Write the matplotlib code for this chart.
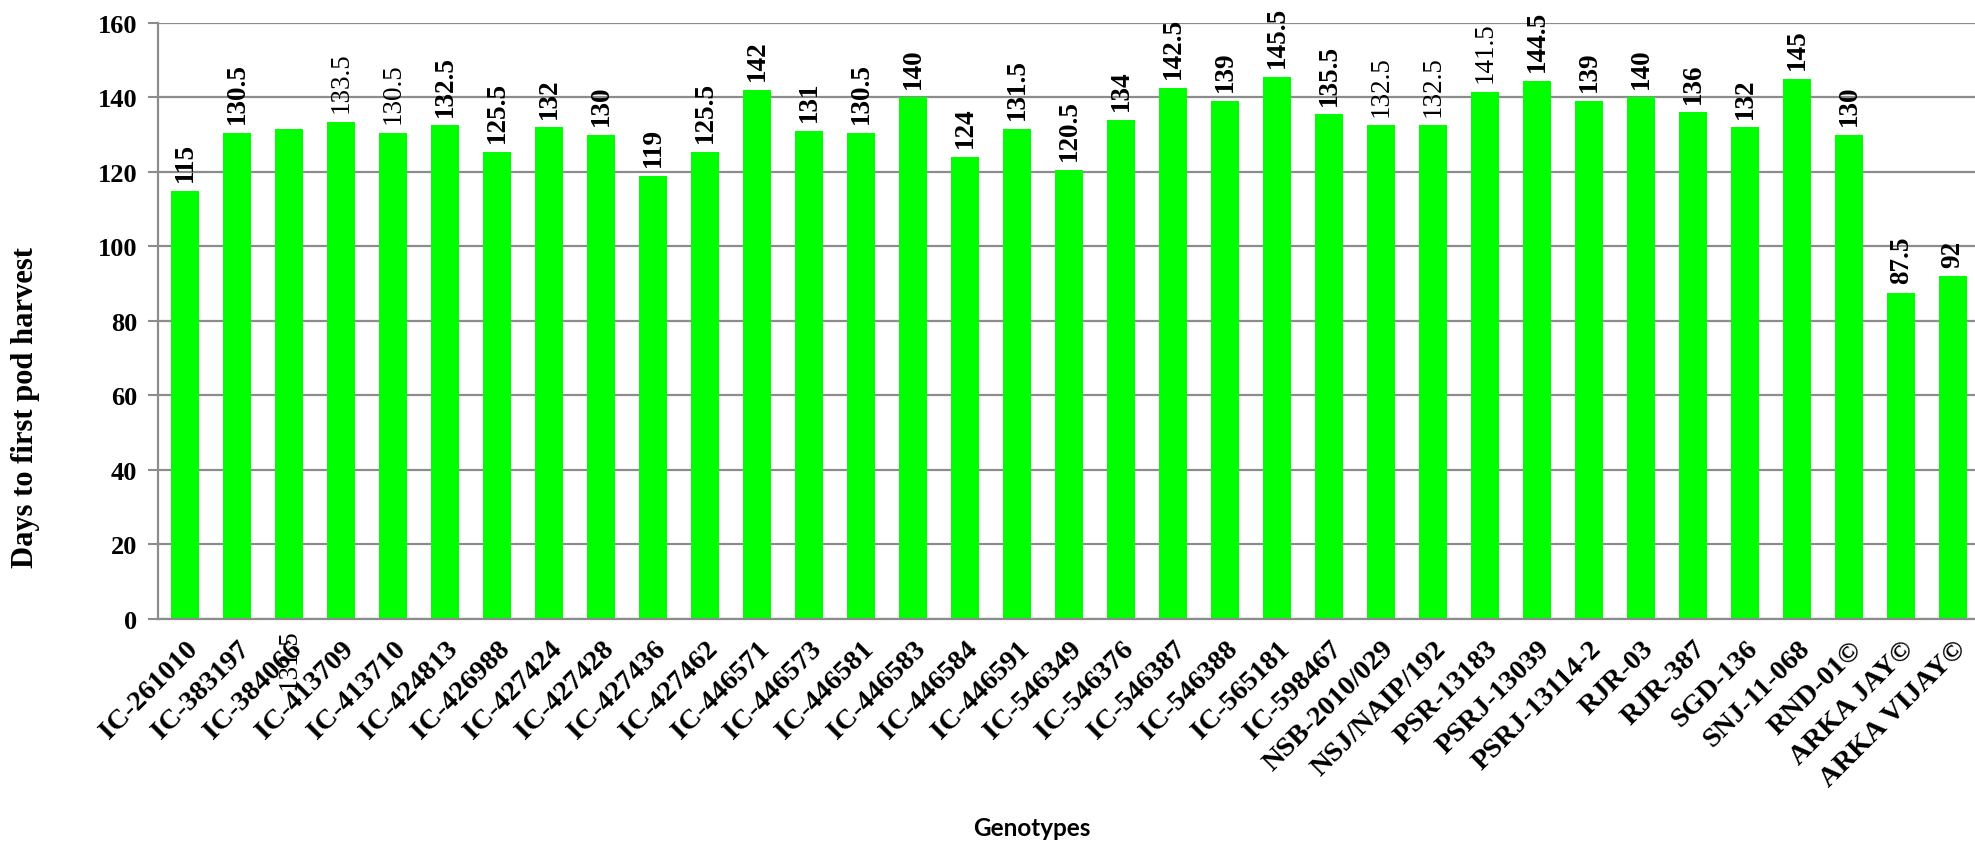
import matplotlib
matplotlib.use("Agg")
import matplotlib.pyplot as plt

# Genotypes and their days to first pod harvest
genotypes = [
    "IC-261010", "IC-383197", "IC-384066", "IC-413709", "IC-413710",
    "IC-424813", "IC-426988", "IC-427424", "IC-427428", "IC-427436",
    "IC-427462", "IC-446571", "IC-446573", "IC-446581", "IC-446583",
    "IC-446584", "IC-446591", "IC-546349", "IC-546376", "IC-546387",
    "IC-546388", "IC-565181", "IC-598467", "NSB-2010/029", "NSJ/NAIP/192",
    "PSR-13183", "PSRJ-13039", "PSRJ-13114-2", "RJR-03", "RJR-387",
    "SGD-136", "SNJ-11-068", "RND-01©", "ARKA JAY©", "ARKA VIJAY©",
]
days = [
    115, 130.5, 131.5, 133.5, 130.5,
    132.5, 125.5, 132, 130, 119,
    125.5, 142, 131, 130.5, 140,
    124, 131.5, 120.5, 134, 142.5,
    139, 145.5, 135.5, 132.5, 132.5,
    141.5, 144.5, 139, 140, 136,
    132, 145, 130, 87.5, 92,
]
# value labels printed in normal weight instead of bold
light_labels = [3, 4, 23, 24, 25]
# value label that ended up below the axis
dropped_label = 2

yticks = [0, 20, 40, 60, 80, 100, 120, 140, 160]

SERIF = "Liberation Serif"
GRID = "#8c8c8c"
BAR_COLOR = "#00ff00"

fig = plt.figure(figsize=(19.75, 8.45), dpi=100)
ax = fig.add_axes([0.080, 0.2663, 0.920, 0.7053])

x = list(range(len(days)))
bars = ax.bar(x, days, width=0.53, color=BAR_COLOR, zorder=2)

ax.set_ylim(0, 160)
ax.set_xlim(-0.52, len(days) - 0.58)
ax.set_yticks(yticks)
ax.set_yticklabels([str(t) for t in yticks], fontfamily=SERIF,
                   fontweight="bold", fontsize=19)
ax.yaxis.grid(True, color=GRID, linewidth=1.6, zorder=0)
ax.set_axisbelow(True)

ax.set_xticks(x)
ax.set_xticklabels(genotypes, rotation=45, ha="right", va="top",
                   rotation_mode="anchor", fontfamily=SERIF,
                   fontweight="bold", fontsize=20.5)
ax.tick_params(axis="x", length=0, pad=12)
ax.tick_params(axis="y", length=7, width=1.5, color=GRID, pad=8)

for side in ["top", "right"]:
    ax.spines[side].set_visible(False)
for side in ["left", "bottom"]:
    ax.spines[side].set_color(GRID)
    ax.spines[side].set_linewidth(1.6)

# value on top of each bar
for i, (rect, v) in enumerate(zip(bars, days)):
    txt = f"{v:g}"
    weight = "normal" if i in light_labels else "bold"
    if i == dropped_label:
        ax.annotate(txt, (rect.get_x() + rect.get_width() / 2, 0),
                    xytext=(0, -7), textcoords="offset points",
                    rotation=90, ha="center", va="top",
                    fontfamily=SERIF, fontweight="normal", fontsize=19.5,
                    annotation_clip=False)
        continue
    ax.annotate(txt, (rect.get_x() + rect.get_width() / 2, v),
                xytext=(0, 7), textcoords="offset points",
                rotation=90, ha="center", va="bottom",
                fontfamily=SERIF, fontweight=weight, fontsize=19.5,
                annotation_clip=False)

fig.text(0.013, 0.518, "Days to first pod harvest", rotation=90,
         ha="center", va="center", fontfamily=SERIF, fontweight="bold",
         fontsize=22)
fig.text(0.5225, 0.020, "Genotypes", ha="center", va="center",
         fontfamily="Lato", fontweight="bold", fontsize=17.5)

fig.savefig("out.png", dpi=100, facecolor="white")
